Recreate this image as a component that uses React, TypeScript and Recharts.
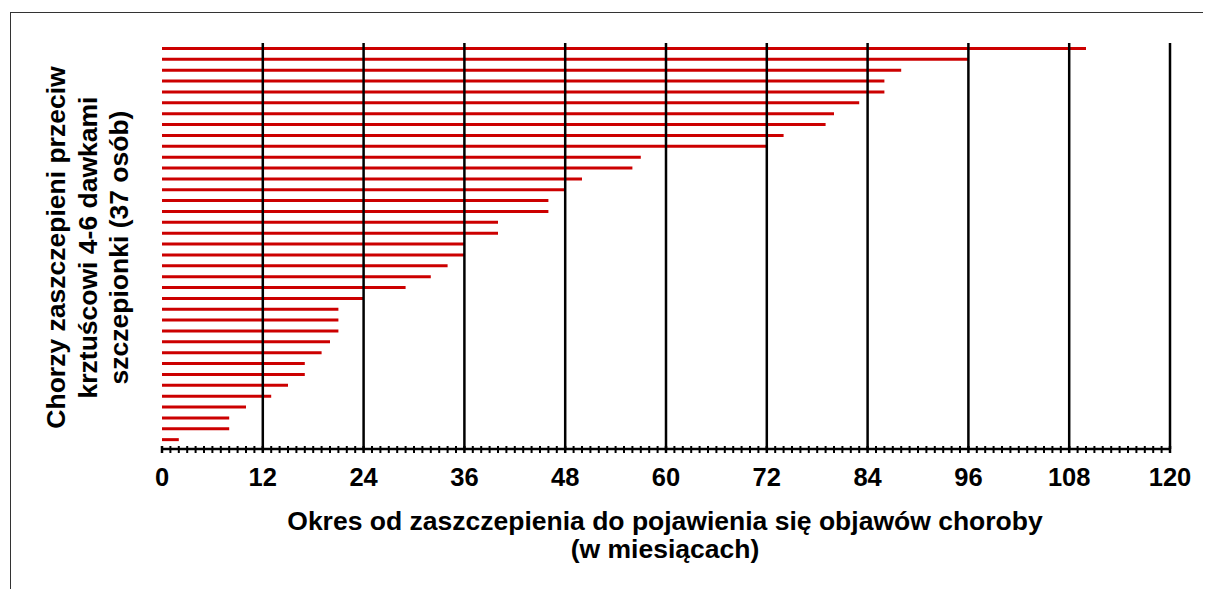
import { BarChart, Bar, XAxis, YAxis, ReferenceLine } from 'recharts';

// miesiące od szczepienia do objawów, od góry do dołu
const patients = Array.from({ length: 37 }, (_, i) => `P${i + 1}`);
const months = [
    110, 96, 88, 86, 86, 83, 80, 79, 74, 72,
    57, 56, 50, 48, 46, 46, 40, 40, 36, 36,
    34, 32, 29, 24, 21, 21, 21, 20, 19, 17,
    17, 15, 13, 10, 8, 8, 2,
];
const majorTicks = [12, 24, 36, 48, 60, 72, 84, 96, 108, 120];
const allTicks = Array.from({ length: 121 }, (_, i) => i);

const data = patients.map((p, i) => ({ name: p, months: months[i] }));

const FONT = '"Liberation Sans", Arial, sans-serif';

const MonthTick = (props: any) => {
    const { x, y, payload } = props;
    const v = payload.value;
    const major = v % 12 === 0;
    return (
        <g>
            <line x1={x} x2={x} y1={y - 3} y2={y + 4} stroke="#000" strokeWidth={major ? 2.5 : 2} />
            {major && (
                <text x={x} y={y + 37} textAnchor="middle" fontSize={25.5} fontWeight="bold" fontFamily={FONT} fill="#000">
                    {v}
                </text>
            )}
        </g>
    );
};

export default function App() {
    return (
        <div style={{ position: 'relative', width: 1203, height: 581, fontFamily: FONT, overflow: 'hidden' }}>
            <style>{'html,body{overflow:hidden}'}</style>
            <div style={{ position: 'absolute', left: 2, top: 4, right: 0, bottom: 0, borderTop: '1.5px solid #333', borderLeft: '1.5px solid #333' }} />
            <div style={{ position: 'absolute', left: 0, top: 0 }}>
                <BarChart
                    width={1195}
                    height={570}
                    data={data}
                    layout="vertical"
                    margin={{ top: 35, right: 33, left: 154, bottom: 89 }}
                    barCategoryGap={0}
                >
                    <XAxis
                        type="number"
                        domain={[0, 120]}
                        ticks={allTicks}
                        interval={0}
                        tick={<MonthTick />}
                        tickLine={false}
                        tickSize={0}
                        tickMargin={0}
                        height={40}
                        axisLine={{ stroke: '#000', strokeWidth: 2.5 }}
                    />
                    <YAxis
                        type="category"
                        dataKey="name"
                        width={0}
                        tick={false}
                        tickLine={false}
                        padding={{ top: 0, bottom: 4 }}
                        axisLine={{ stroke: '#000', strokeWidth: 2.5 }}
                    />
                    {majorTicks.map((m) => (
                        <ReferenceLine key={m} x={m} stroke="#000" strokeWidth={2.5} />
                    ))}
                    <Bar dataKey="months" fill="#cc0000" barSize={3} isAnimationActive={false} />
                </BarChart>
            </div>
            <div
                style={{
                    position: 'absolute',
                    left: -150,
                    top: 192,
                    width: 460,
                    height: 95,
                    lineHeight: '31.5px',
                    fontSize: 26.5,
                    fontWeight: 'bold',
                    textAlign: 'center',
                    transform: 'rotate(-90deg)',
                    color: '#000',
                    whiteSpace: 'nowrap',
                }}
            >
                Chorzy zaszczepieni przeciw
                <br />
                krztuścowi 4-6 dawkami
                <br />
                szczepionki (37 osób)
            </div>
            <div
                style={{
                    position: 'absolute',
                    left: 207,
                    top: 499,
                    width: 900,
                    lineHeight: '28px',
                    fontSize: 26.5,
                    fontWeight: 'bold',
                    textAlign: 'center',
                    color: '#000',
                    whiteSpace: 'nowrap',
                }}
            >
                Okres od zaszczepienia do pojawienia się objawów choroby
                <br />
                (w miesiącach)
            </div>
        </div>
    );
}
